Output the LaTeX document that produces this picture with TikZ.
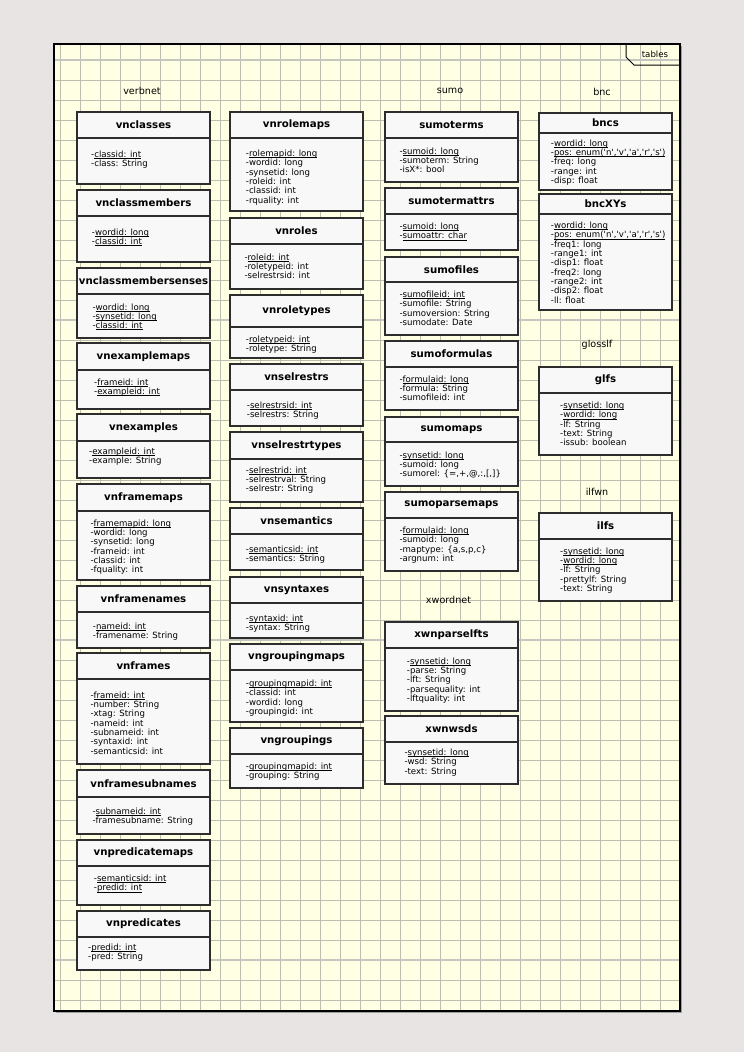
\documentclass[tikz,border=0pt]{standalone}
\usepackage{fontspec}
\setmainfont{DejaVu Sans}
\definecolor{pagebg}{RGB}{232,228,228}
\definecolor{sheet}{RGB}{255,255,227}
\definecolor{gridc}{RGB}{190,190,176}
\definecolor{pagebreak}{RGB}{198,198,192}
\definecolor{tfill}{RGB}{248,248,248}
\definecolor{tline}{RGB}{45,45,45}
\newcommand{\sq}[1]{\textquotesingle#1\textquotesingle}
% key attribute, underlined just below the baseline
\newcommand{\key}[1]{\setbox0\hbox{#1}\rlap{\rule[-1.2pt]{\wd0}{0.55pt}}\box0}
% #1 name, #2 left, #3 top, #4 separator, #5 bottom, #6/#7 first attribute line, #8 attributes
\newcommand{\dbtable}[8]{%
  \pgfmathsetmacro\headh{#4-#3}%
  \pgfmathsetmacro\bodyh{#5-#4}%
  \node[thead, minimum height=\headh pt] (#1) at (#2,#3) {#1};
  \node[tbody, minimum height=\bodyh pt] (#1-body) at (#1.south west) {};
  \node[trows] (#1-rows) at (#6,#7-3.4) {#8};
}
\begin{document}
\lineskiplimit=-20pt\relax
\begin{tikzpicture}[x=1pt,y=-1pt,
  thead/.style={draw=tline,line width=1.2pt,fill=tfill,anchor=north west,inner sep=0pt,outer sep=0pt,
    minimum width=133pt,font={\fontsize{10.2pt}{12pt}\selectfont\bfseries}},
  tbody/.style={draw=tline,line width=1.2pt,fill=tfill,anchor=north west,inner sep=0pt,outer sep=0pt,
    minimum width=133pt},
  trows/.style={anchor=north west,inner sep=0pt,align=left,
    font={\fontsize{8.6pt}{9.33pt}\selectfont}},
  pkglabel/.style={font={\fontsize{9.6pt}{11pt}\selectfont},inner sep=0pt},
  gridline/.style={gridc,line width=0.8pt},
  pageline/.style={pagebreak,line width=1.8pt}]
\useasboundingbox (0,0) rectangle (744,1052);
\fill[pagebg] (0,0) rectangle (744,1052);
% sheet with grid
\fill[gray!75] (55.5,45.5) rectangle (682,1013);
\fill[sheet] (54,44) rectangle (680,1011);
\foreach \gx in {60,80,...,660} \draw[gridline] (\gx,44) -- (\gx,1011);
\foreach \gy in {60,80,...,1000} \draw[gridline] (54,\gy) -- (680,\gy);
\foreach \gy in {60,320,640,960} \draw[pageline] (54.6,\gy) -- (679.4,\gy);
\draw[black,line width=1.2pt] (54,44) rectangle (680,1011);
\draw[black,line width=1pt] (626,44) -- (626,57) -- (634,65) -- (680,65);
\node[font={\fontsize{8.6pt}{10pt}\selectfont},inner sep=0pt] (tables) at (655,54) {tables};
% package labels
\node[pkglabel] (verbnet) at (142,91) {verbnet};
\node[pkglabel] (sumo) at (450,91) {sumo};
\node[pkglabel] (bnc) at (602,91.5) {bnc};
\node[pkglabel] (glosslf) at (597,345) {glosslf};
\node[pkglabel] (ilfwn) at (597,491.5) {ilfwn};
\node[pkglabel] (xwordnet) at (448.5,599.5) {xwordnet};
% verbnet, first column
\dbtable{vnclasses}{77}{112}{138}{184}{91}{154}{-\key{classid: int}\\-class: String}
\dbtable{vnclassmembers}{77}{190}{216}{262}{91.7}{232}{-\key{wordid: long}\\-\key{classid: int}}
\dbtable{vnclassmembersenses}{77}{268}{294}{338}{92.3}{306.7}{-\key{wordid: long}\\-\key{synsetid: long}\\-\key{classid: int}}
\dbtable{vnexamplemaps}{77}{343}{370}{409}{94}{382}{-\key{frameid: int}\\-\key{exampleid: int}}
\dbtable{vnexamples}{77}{414}{441}{478}{89}{451}{-\key{exampleid: int}\\-example: String}
\dbtable{vnframemaps}{77}{484}{511}{580}{90.3}{522.7}{-\key{framemapid: long}\\-wordid: long\\-synsetid: long\\-frameid: int\\-classid: int\\-fquality: int}
\dbtable{vnframenames}{77}{586}{612}{648}{92.7}{626.3}{-\key{nameid: int}\\-framename: String}
\dbtable{vnframes}{77}{653}{679}{764}{90.3}{694.7}{-\key{frameid: int}\\-number: String\\-xtag: String\\-nameid: int\\-subnameid: int\\-syntaxid: int\\-semanticsid: int}
\dbtable{vnframesubnames}{77}{770}{797}{834}{92.3}{811}{-\key{subnameid: int}\\-framesubname: String}
\dbtable{vnpredicatemaps}{77}{840}{866}{905}{93.7}{878.3}{-\key{semanticsid: int}\\-\key{predid: int}}
\dbtable{vnpredicates}{77}{911}{937}{970}{88}{947.3}{-\key{predid: int}\\-pred: String}
% verbnet, second column
\dbtable{vnrolemaps}{230}{112}{138}{211}{245.7}{153.3}{-\key{rolemapid: long}\\-wordid: long\\-synsetid: long\\-roleid: int\\-classid: int\\-rquality: int}
\dbtable{vnroles}{230}{218}{244}{289}{244.3}{256.7}{-\key{roleid: int}\\-roletypeid: int\\-selrestrsid: int}
\dbtable{vnroletypes}{230}{295}{327}{358}{245.7}{338.7}{-\key{roletypeid: int}\\-roletype: String}
\dbtable{vnselrestrs}{230}{364}{390}{426}{246.7}{404.7}{-\key{selrestrsid: int}\\-selrestrs: String}
\dbtable{vnselrestrtypes}{230}{432}{459}{502}{245.7}{470}{-\key{selrestrid: int}\\-selrestrval: String\\-selrestr: String}
\dbtable{vnsemantics}{230}{508}{534}{570}{245.7}{548.7}{-\key{semanticsid: int}\\-semantics: String}
\dbtable{vnsyntaxes}{230}{577}{603}{638}{245.7}{618}{-\key{syntaxid: int}\\-syntax: String}
\dbtable{vngroupingmaps}{230}{644}{670}{722}{245.7}{683}{-\key{groupingmapid: int}\\-classid: int\\-wordid: long\\-groupingid: int}
\dbtable{vngroupings}{230}{728}{754}{788}{245.7}{766}{-\key{groupingmapid: int}\\-grouping: String}
% sumo and xwordnet
\dbtable{sumoterms}{385}{112}{138}{182}{399.3}{151}{-\key{sumoid: long}\\-sumoterm: String\\-isX*: bool}
\dbtable{sumotermattrs}{385}{188}{214}{250}{399.3}{226.3}{-\key{sumoid: long}\\-\key{sumoattr: char}}
\dbtable{sumofiles}{385}{257}{282}{335}{399.3}{294.3}{-\key{sumofileid: int}\\-sumofile: String\\-sumoversion: String\\-sumodate: Date}
\dbtable{sumoformulas}{385}{341}{367}{410}{399.3}{378.7}{-\key{formulaid: long}\\-formula: String\\-sumofileid: int}
\dbtable{sumomaps}{385}{417}{442}{486}{399.3}{455}{-\key{synsetid: long}\\-sumoid: long\\-sumorel: \{=,+,@,:,[,]\}}
\dbtable{sumoparsemaps}{385}{492}{518}{571}{399.3}{530.3}{-\key{formulaid: long}\\-sumoid: long\\-maptype: \{a,s,p,c\}\\-argnum: int}
\dbtable{xwnparselfts}{385}{622}{648}{711}{406.7}{660.7}{-\key{synsetid: long}\\-parse: String\\-lft: String\\-parsequality: int\\-lftquality: int}
\dbtable{xwnwsds}{385}{716}{742}{784}{404.3}{752.3}{-\key{synsetid: long}\\-wsd: String\\-text: String}
% bnc, glosslf, ilfwn
\dbtable{bncs}{539}{113}{133}{190}{550.7}{142.7}{-\key{wordid: long}\\-\key{pos: enum(\sq n,\sq v,\sq a,\sq r,\sq s)}\\-freq: long\\-range: int\\-disp: float}
\dbtable{bncXYs}{539}{194}{214}{310}{550.7}{225.3}{-\key{wordid: long}\\-\key{pos: enum(\sq n,\sq v,\sq a,\sq r,\sq s)}\\-freq1: long\\-range1: int\\-disp1: float\\-freq2: long\\-range2: int\\-disp2: float\\-ll: float}
\dbtable{glfs}{539}{367}{393}{455}{560}{405.3}{-\key{synsetid: long}\\-\key{wordid: long}\\-lf: String\\-text: String\\-issub: boolean}
\dbtable{ilfs}{539}{513}{539}{601}{560}{550.7}{-\key{synsetid: long}\\-\key{wordid: long}\\-lf: String\\-prettylf: String\\-text: String}
\end{tikzpicture}
\end{document}
